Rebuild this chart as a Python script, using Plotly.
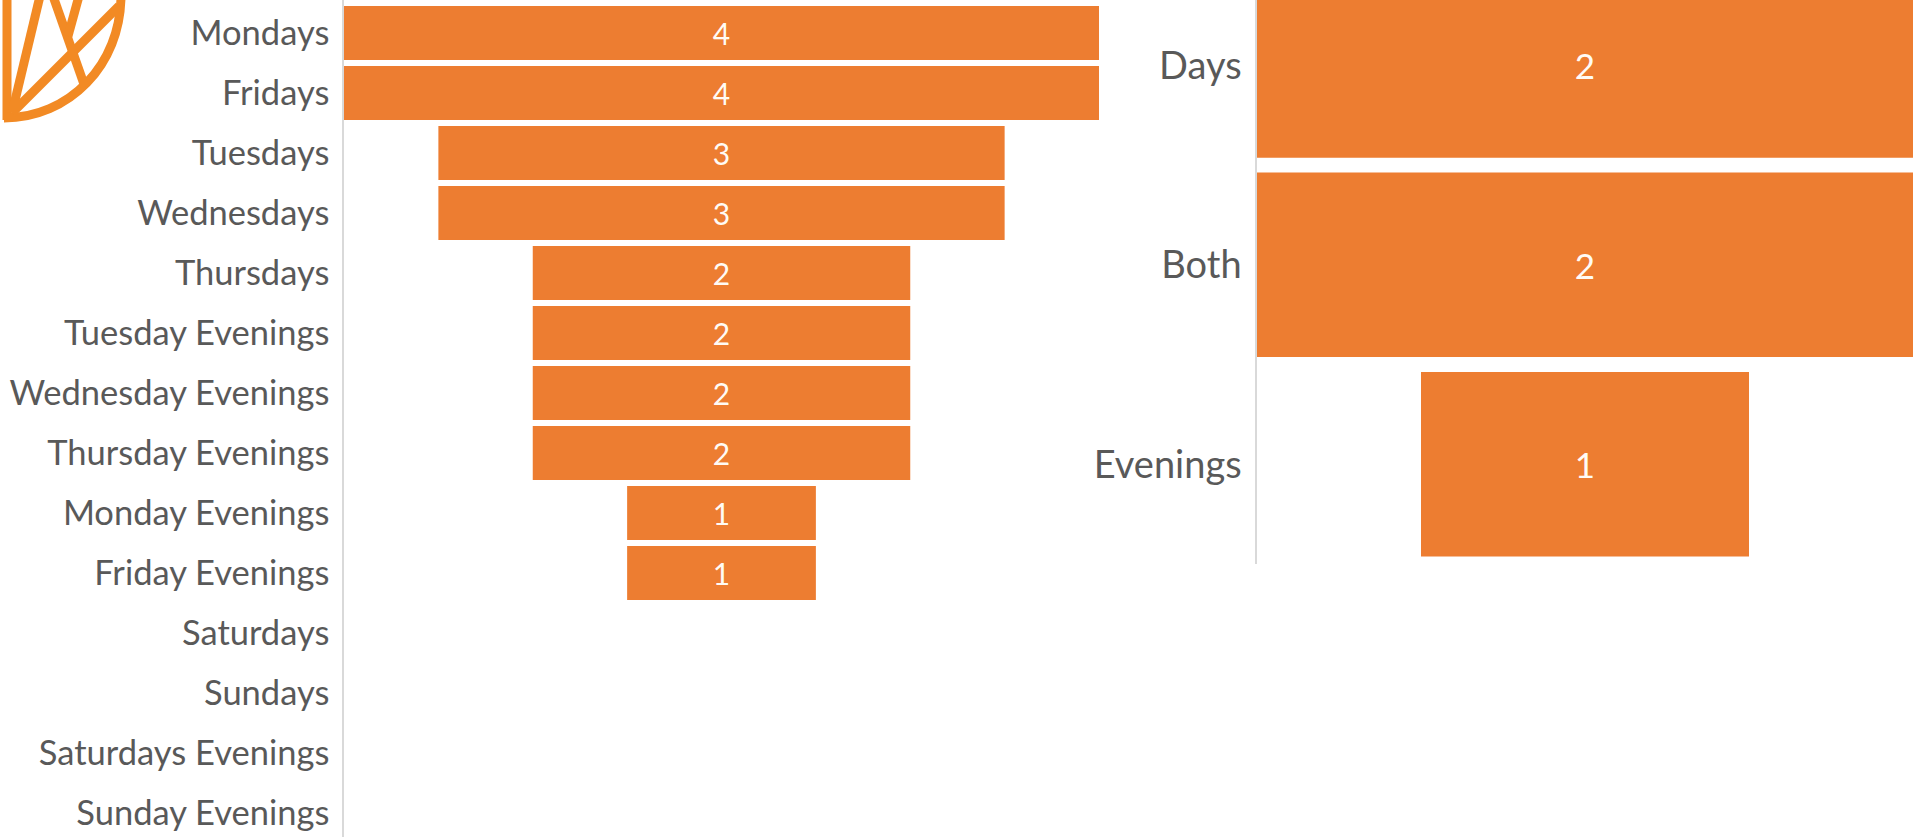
import plotly.graph_objects as go

# ---- data ----
day_categories = ["Mondays", "Fridays", "Tuesdays", "Wednesdays", "Thursdays",
                  "Tuesday Evenings", "Wednesday Evenings", "Thursday Evenings",
                  "Monday Evenings", "Friday Evenings", "Saturdays", "Sundays",
                  "Saturdays Evenings", "Sunday Evenings"]
day_counts = [4, 4, 3, 3, 2, 2, 2, 2, 1, 1, 0, 0, 0, 0]

pref_categories = ["Days", "Both", "Evenings"]
pref_counts = [2, 2, 1]

W, H = 1919, 837
BAR = "#ED7D31"
LABEL = "#595959"
AXIS = "#D9D9D9"
LOGO = "#F28A24"
FONT = "Lato"

fig = go.Figure()

fig.add_trace(go.Funnel(
    y=day_categories, x=day_counts, orientation="h",
    marker=dict(color=BAR, line=dict(width=0)),
    connector=dict(visible=False),
    text=[str(v) if v else "" for v in day_counts],
    textinfo="text", textposition="inside", insidetextanchor="middle",
    textfont=dict(color="#FFFBF5", size=30, family=FONT),
    width=0.9, xaxis="x", yaxis="y", hoverinfo="y+x",
))

fig.add_trace(go.Funnel(
    y=pref_categories, x=pref_counts, orientation="h",
    marker=dict(color=BAR, line=dict(width=0)),
    connector=dict(visible=False),
    text=[str(v) for v in pref_counts],
    textinfo="text", textposition="inside", insidetextanchor="middle",
    textfont=dict(color="#FFFBF5", size=35, family=FONT),
    width=0.925, xaxis="x2", yaxis="y2", hoverinfo="y+x",
))

def P(x, y):
    return x / W, 1 - y / H

def line(x0, y0, x1, y1):
    a, b = P(x0, y0)
    c, d = P(x1, y1)
    return dict(type="line", xref="paper", yref="paper", x0=a, y0=b, x1=c, y1=d,
                line=dict(color=LOGO, width=9), layer="above")

def arc_path():
    cx, cy, r = 4, 1, 117
    k = 0.5523 * r
    pts = [(cx + r, cy - 6), (cx + r, cy + k), (cx + k, cy + r), (cx, cy + r)]
    q = [P(*p) for p in pts]
    return "M %f,%f C %f,%f %f,%f %f,%f" % (q[0] + q[1] + q[2] + q[3])

shapes = [
    dict(type="path", xref="paper", yref="paper", path=arc_path(),
         line=dict(color=LOGO, width=9), layer="above"),
    line(7, -5, 7, 120),
    line(12, 113, 40, -4),
    line(12, 113, 119, 6),
    line(53, -4, 85, 87),
    line(79, -4, 68, 36),
]

fig.update_layout(
    width=W, height=H,
    margin=dict(l=0, r=0, t=0, b=0),
    paper_bgcolor="white", plot_bgcolor="white",
    showlegend=False,
    font=dict(family=FONT, color=LABEL),
    shapes=shapes,
    xaxis=dict(domain=[344 / W, 1099 / W], range=[-2, 2], visible=False,
               anchor="y"),
    yaxis=dict(domain=[0, 1], range=[13.4, -0.55], anchor="x",
               showline=True, linecolor=AXIS, linewidth=1.5,
               showgrid=False, zeroline=False, ticks="",
               ticklabelstandoff=6,
               tickfont=dict(size=34.5, color=LABEL, family=FONT)),
    xaxis2=dict(domain=[1257 / W, 1913 / W], range=[-1, 1], visible=False,
                anchor="y2"),
    yaxis2=dict(domain=[1 - 564 / H, 1], range=[2.5, -0.328], anchor="x2",
                showline=True, linecolor=AXIS, linewidth=1.5,
                showgrid=False, zeroline=False, ticks="",
                ticklabelstandoff=6,
                tickfont=dict(size=38, color=LABEL, family=FONT)),
)

fig.write_html("out.html", config={"displayModeBar": False},
               post_script="document.body.style.margin='0';document.body.style.overflow='hidden';")
